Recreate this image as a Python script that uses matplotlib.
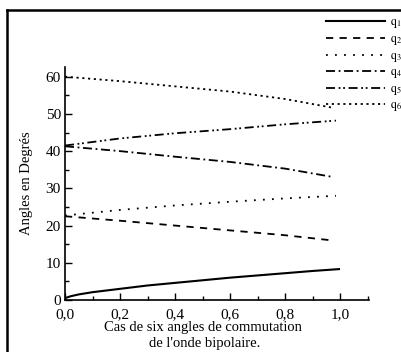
import matplotlib
matplotlib.use("Agg")
import matplotlib.pyplot as plt
from matplotlib.lines import Line2D
from matplotlib.ticker import MultipleLocator, FuncFormatter

plt.rcParams['font.family'] = ['Liberation Serif', 'DejaVu Serif']
plt.rcParams['mathtext.fontset'] = 'stix'

# Data
x1 = [0.0, 0.02, 0.05, 0.1, 0.2, 0.3, 0.4, 0.5, 0.6, 0.7, 0.8, 0.9, 0.996]
q1 = [0.5, 1.0, 1.5, 2.1, 3.0, 3.9, 4.6, 5.3, 6.0, 6.6, 7.2, 7.8, 8.3]

x2 = [0.0, 0.2, 0.4, 0.6, 0.8, 0.96]
q2 = [22.5, 21.3, 20.0, 18.7, 17.4, 16.1]

x3 = [0.0, 0.2, 0.4, 0.6, 0.8, 0.985]
q3 = [22.7, 24.2, 25.4, 26.4, 27.3, 28.0]

x4 = [0.0, 0.2, 0.4, 0.6, 0.8, 0.97]
q4 = [41.3, 40.0, 38.5, 37.1, 35.3, 33.1]

x5 = [0.0, 0.2, 0.4, 0.6, 0.8, 0.985]
q5 = [41.5, 43.4, 44.8, 45.9, 47.2, 48.2]

x6 = [0.0, 0.2, 0.4, 0.6, 0.8, 0.97]
q6 = [60.0, 58.8, 57.4, 56.0, 54.0, 51.7]

labels = [r'$\mathrm{q}_1$', r'$\mathrm{q}_2$', r'$\mathrm{q}_3$',
          r'$\mathrm{q}_4$', r'$\mathrm{q}_5$', r'$\mathrm{q}_6$']

fig = plt.figure(figsize=(4.01, 3.52), dpi=100)
ax = fig.add_axes([65/401, 1 - 300/352, (369-65)/401, (300-67)/352])

styles = [
    dict(ls='-', lw=1.5),
    dict(ls=(0, (4, 3.5)), lw=1.3),
    dict(ls=(0, (1, 4)), lw=1.3),
    dict(ls=(0, (5, 2, 1, 2)), lw=1.3),
    dict(ls=(0, (5, 2, 1, 1.5, 1, 2)), lw=1.3),
    dict(ls=(0, (1.2, 2)), lw=1.3),
]
data = [(x1, q1), (x2, q2), (x3, q3), (x4, q4), (x5, q5), (x6, q6)]
handles = []
for (xx, yy), st, lab in zip(data, styles, labels):
    h, = ax.plot(xx, yy, color='black', label=lab, **st)
    handles.append(h)

ax.set_xlim(0, 1.105)
ax.set_ylim(0, 62.6)
ax.spines['top'].set_visible(False)
ax.spines['right'].set_visible(False)
for s in ('left', 'bottom'):
    ax.spines[s].set_linewidth(1.2)

ax.xaxis.set_major_locator(MultipleLocator(0.2))
ax.xaxis.set_minor_locator(MultipleLocator(0.1))
ax.yaxis.set_major_locator(MultipleLocator(10))
ax.yaxis.set_minor_locator(MultipleLocator(5))
ax.xaxis.set_major_formatter(FuncFormatter(lambda v, p: f"{v:.1f}".replace('.', ',')))
ax.tick_params(which='major', direction='in', length=5, width=1, labelsize=11)
ax.tick_params(which='minor', direction='in', length=3, width=1)
ax.tick_params(axis='x', pad=6)
ax.tick_params(axis='y', pad=3)

ax.set_ylabel('Angles en Degrés', fontsize=10.5, labelpad=9)

fig.text(203/401, 1 - 327/352, 'Cas de six angles de commutation',
         ha='center', va='center', fontsize=10.5)
fig.text(205/401, 1 - 343/352, "de l'onde bipolaire.",
         ha='center', va='center', fontsize=10.5)

leg = fig.legend(handles=handles, labels=labels, loc='upper left',
                 bbox_to_anchor=(326/401, 1 - 16.5/352), frameon=False,
                 fontsize=8.5, handlelength=5.0, handletextpad=0.4,
                 labelspacing=0.22, borderpad=0, borderaxespad=0)

# figure frame (left and top edges visible)
fig.add_artist(Line2D([7/401, 7/401], [0, 1 - 10/352], transform=fig.transFigure,
                      color='black', lw=1.8))
fig.add_artist(Line2D([7/401, 1], [1 - 10/352, 1 - 10/352], transform=fig.transFigure,
                      color='black', lw=1.8))

fig.savefig('out.png', dpi=100)
